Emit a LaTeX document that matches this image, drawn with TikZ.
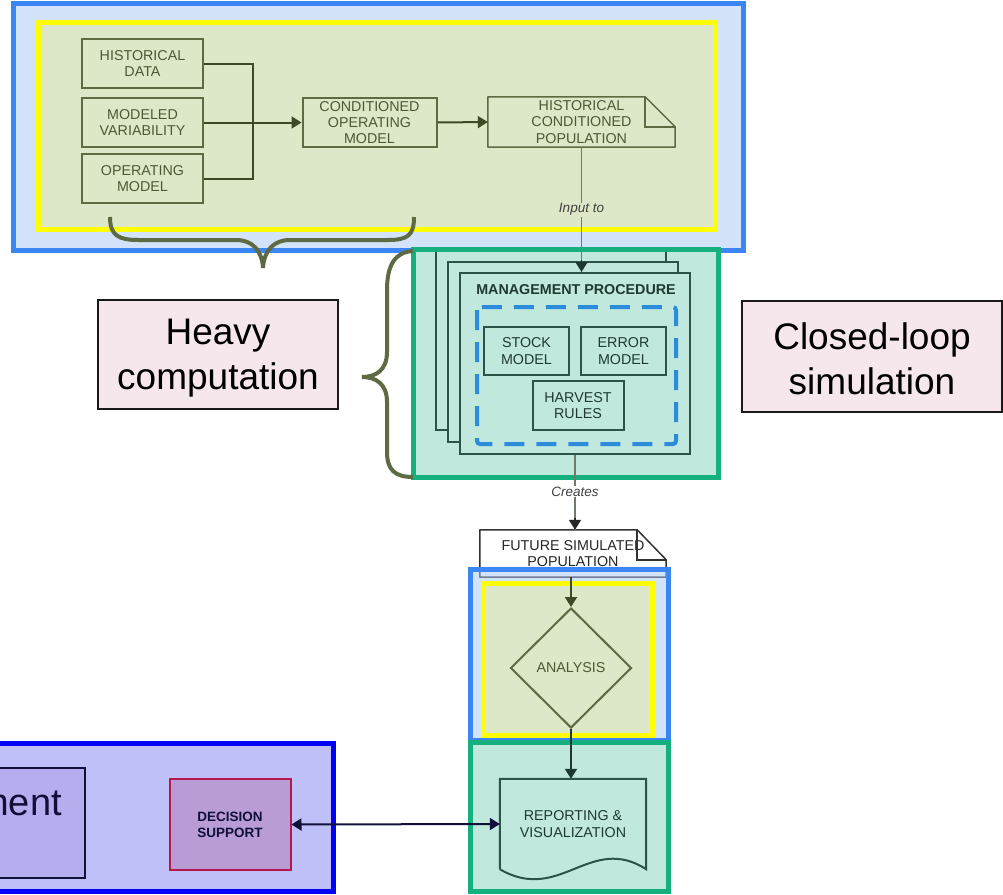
\documentclass[tikz,border=0pt]{standalone}
\usepackage{fontspec}
\setmainfont{Liberation Sans}
\usetikzlibrary{arrows.meta, shapes.geometric, positioning}
\definecolor{zoneblue}{RGB}{60, 134, 244}
\definecolor{zonebluefill}{RGB}{211, 227, 249}
\definecolor{zonebluesemi}{RGB}{167, 199, 243}
\definecolor{zoneyellow}{RGB}{255, 255, 0}
\definecolor{zoneyellowfill}{RGB}{221, 232, 200}
\definecolor{zonegreen}{RGB}{21, 176, 126}
\definecolor{zonegreenfill}{RGB}{192, 232, 220}
\definecolor{olivebox}{RGB}{93, 106, 66}
\definecolor{olivetext}{RGB}{77, 88, 52}
\definecolor{olivearrow}{RGB}{61, 74, 38}
\definecolor{mpline}{RGB}{44, 84, 70}
\definecolor{mptext}{RGB}{30, 58, 48}
\definecolor{mpdash}{RGB}{43, 140, 220}
\definecolor{linkgray}{RGB}{112, 122, 104}
\definecolor{notepink}{RGB}{245, 231, 236}
\definecolor{stakeblue}{RGB}{0, 0, 245}
\definecolor{stakefill}{RGB}{192, 192, 248}
\definecolor{stakeinner}{RGB}{181, 174, 238}
\definecolor{navytext}{RGB}{16, 16, 58}
\definecolor{decisionfill}{RGB}{185, 155, 214}
\definecolor{decisionline}{RGB}{181, 25, 75}

\tikzset{
    topbox/.style={draw=olivebox, line width=2pt, text=olivetext, align=center, inner sep=0pt,
        minimum width=121pt, minimum height=49pt, font=\fontsize{14.3}{16.5}\selectfont},
    mpbox/.style={draw=mpline, line width=2pt, text=mptext, align=center, inner sep=0pt,
        minimum width=85pt, minimum height=48pt, font=\fontsize{14.3}{16.5}\selectfont},
    mppage/.style={draw=mpline, line width=2pt, fill=zonegreenfill, minimum width=230pt, minimum height=180pt},
    arr/.style={-{Triangle[length=10pt,width=12pt]}},
    linklabel/.style={font=\fontsize{13.5}{15}\selectfont\itshape, text=black!75, inner sep=1pt},
    notebox/.style={draw=black!90, line width=1.5pt, fill=notepink, align=center,
        font=\fontsize{37}{45}\selectfont},
    bracestroke/.style={draw=olivebox, line width=4pt},
}

\begin{document}
\begin{tikzpicture}[x=1pt, y=-1pt]
    \useasboundingbox (0,0) rectangle (1003,894);
    \clip (0,0) rectangle (1003,894);

    % historical conditioning zone
    \draw[draw=zoneblue, fill=zonebluefill, line width=5pt] (13,3) rectangle (743,250);
    \draw[draw=zoneyellow, fill=zoneyellowfill, line width=5pt] (38,22) rectangle (715,229);

    \node[topbox] (histdata) at (142.5,63.5) {HISTORICAL\\DATA};
    \node[topbox] (modvar) at (142.5,122.5) {MODELED\\VARIABILITY};
    \node[topbox] (opmodel) at (142.5,178.5) {OPERATING\\MODEL};
    \node[topbox, minimum width=134pt, font=\fontsize{14.3}{16}\selectfont] (condmodel) at (369.5,122.5) {CONDITIONED\\OPERATING\\MODEL};
    \node[text=olivetext, align=center, inner sep=0pt, minimum width=187pt, minimum height=50pt,
        font=\fontsize{14.3}{16.5}\selectfont] (histpop) at (581.5,122) {HISTORICAL\\CONDITIONED\\POPULATION};
    \draw[olivebox, line width=1.5pt, line join=round] (histpop.south west) -- (histpop.north west)
        -- ([xshift=-30pt]histpop.north east) -- ([yshift=-30pt]histpop.north east) -- (histpop.south east) -- cycle;
    \draw[olivebox, line width=1.5pt] ([xshift=-30pt]histpop.north east) |- ([yshift=-30pt]histpop.north east);

    \coordinate (merge) at (253,122.5);
    \draw[olivearrow, line width=2pt] (histdata.east) -| (merge);
    \draw[olivearrow, line width=2pt] (opmodel.east) -| (merge);
    \draw[olivearrow, line width=2pt, arr] (modvar.east) -- (condmodel.west);
    \draw[olivearrow, line width=2pt, arr] (condmodel.east) -- (histpop.west);

    % management procedure zone
    \draw[draw=zonegreen, fill=zonegreenfill, line width=5pt] (413,249) rectangle (718,477);
    \node[mppage] (mpback) at (551,340) {};
    \node[mppage] (mpmid) at (563,352) {};
    \node[mppage, minimum height=181pt] (mpfront) at (575,363.5) {};
    \draw[draw=zonegreen, line width=5pt] (413,249) rectangle (718,477);
    \node[font=\fontsize{14.3}{16}\selectfont\bfseries, text=mptext] (mptitle) at (576,290) {MANAGEMENT PROCEDURE};
    \draw[mpdash, line width=4pt, dash pattern=on 20pt off 12pt, rounded corners=3pt] (477,307) rectangle (676,444);
    \node[mpbox] (stock) at (526.5,351) {STOCK\\MODEL};
    \node[mpbox] (error) at (623.5,351) {ERROR\\MODEL};
    \node[mpbox, minimum width=91pt, minimum height=49pt] (harvest) at (578,405.5) {HARVEST\\RULES};

    \draw[linkgray, line width=1.5pt] (histpop.south) -- (histpop.south |- mpfront.north)
        node[pos=0.5, linklabel, fill=zoneyellowfill] {Input to};
    \draw[mptext, line width=1.5pt, arr] ([yshift=12pt]histpop.south |- mpfront.north) -- (histpop.south |- mpfront.north);

    % braces
    \draw[bracestroke] (110,217) .. controls (110,235) and (118,240) .. (138,240) -- (236,240)
        .. controls (252,240) and (262,250) .. (263,268) .. controls (264,250) and (274,240) .. (290,240)
        -- (388,240) .. controls (408,240) and (414,235) .. (414,217);
    \draw[bracestroke] (413,251) .. controls (395,252) and (387,265) .. (387,290) -- (387,352)
        .. controls (387,370) and (376,377) .. (362,377) .. controls (376,377) and (387,384) .. (387,402)
        -- (387,452) .. controls (387,470) and (395,477) .. (413,477);

    % future population and analysis
    \node[fill=white, text=black!85, align=center, inner sep=0pt, minimum width=186pt, minimum height=47pt,
        font=\fontsize{14.3}{16.5}\selectfont] (futpop) at (573,553.5) {FUTURE SIMULATED\\POPULATION};
    \draw[black!80, line width=1.5pt, line join=round] (futpop.south west) -- (futpop.north west)
        -- ([xshift=-29pt]futpop.north east) -- ([yshift=-30pt]futpop.north east) -- (futpop.south east) -- cycle;
    \draw[black!80, line width=1.5pt] ([xshift=-29pt]futpop.north east) |- ([yshift=-30pt]futpop.north east);
    \draw[linkgray, line width=1.5pt] (mpfront.south) -- (mpfront.south |- futpop.north)
        node[pos=0.49, linklabel, fill=white] {Creates};
    \draw[black!85, line width=1.5pt, arr] ([yshift=12pt]mpfront.south |- futpop.north) -- (mpfront.south |- futpop.north);

    \draw[draw=zoneblue, fill=zonebluesemi, fill opacity=0.5, line width=5pt] (470,569) rectangle (668,740);
    \draw[draw=zoneyellow, fill=zoneyellowfill, line width=5pt] (483,583) rectangle (652,735);
    \node[diamond, aspect=1, draw=olivebox, line width=2pt, inner sep=0pt, minimum width=121pt, minimum height=120pt,
        text=olivetext, font=\fontsize{14.3}{16}\selectfont] (analysis) at (571,668) {ANALYSIS};
    \draw[olivearrow, line width=2pt, arr] (futpop.south -| analysis.north) -- (analysis.north);

    % reporting
    \draw[draw=zonegreen, fill=zonegreenfill, line width=5pt] (470,742) rectangle (668,891);
    \node[text=mptext, align=center, inner sep=0pt, minimum width=146pt, minimum height=90pt,
        font=\fontsize{14.3}{16.5}\selectfont] (report) at (573,824) {REPORTING \&\\VISUALIZATION};
    \draw[mpline, line width=2pt] (report.south west) -- (report.north west) -- (report.north east)
        -- (report.south east) .. controls +(-56,-36) and +(60,35) .. (report.south west);
    \draw[mptext, line width=2pt, arr] (analysis.south) -- (analysis.south |- report.north);

    % stakeholder side
    \draw[draw=stakeblue, fill=stakefill, line width=5pt] (-10,743) rectangle (333,891);
    \draw[draw=navytext, fill=stakeinner, line width=1.5pt] (-10,768) rectangle (85,878);
    \node[anchor=base east, inner sep=0pt, text=navytext, font=\fontsize{38}{45}\selectfont] (mgmttext) at (62,815) {ment};
    \node[draw=decisionline, fill=decisionfill, line width=2pt, minimum width=121pt, minimum height=91pt,
        text=navytext, align=center, font=\fontsize{13.5}{16}\selectfont\bfseries] (decision) at (230,824.5) {DECISION\\SUPPORT};
    \draw[navytext, line width=2pt, {Triangle[length=10pt,width=12pt]}-{Triangle[length=10pt,width=12pt]}] (decision.east) -- (report.west);

    % notes
    \node[notebox, minimum width=240pt, minimum height=109pt] (heavy) at (218,354.5) {\rule{0pt}{33pt}Heavy\\computation};
    \node[notebox, minimum width=260pt, minimum height=111pt] (closedloop) at (872,356.5) {\rule{0pt}{31pt}Closed-loop\\simulation};
\end{tikzpicture}
\end{document}
